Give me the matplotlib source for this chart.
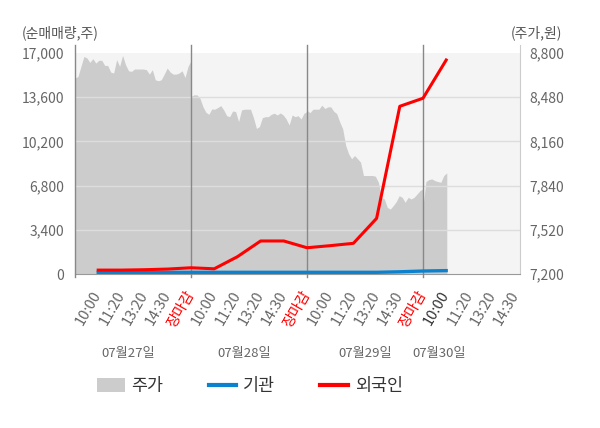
import numpy as np
import matplotlib
matplotlib.use('Agg')
import matplotlib.pyplot as plt
from matplotlib.patches import Patch
from matplotlib.lines import Line2D

plt.rcParams['font.family'] = ['Noto Sans CJK KR', 'DejaVu Sans']

# 주가(원), 날짜별로 읽은 값
price_d1 = [8618, 8630, 8703, 8775, 8764, 8732, 8759, 8727, 8747, 8747,
            8710, 8710, 8662, 8655, 8752, 8703, 8783, 8715, 8671, 8667,
            8684, 8684, 8684, 8684, 8679, 8647, 8679, 8606, 8599, 8606,
            8647, 8691, 8662, 8647, 8647, 8655, 8671, 8622, 8703, 8744]
price_d2 = [8485, 8497, 8497, 8473, 8412, 8371, 8356, 8395, 8393, 8405,
            8419, 8388, 8346, 8339, 8380, 8376, 8303, 8388, 8393, 8393,
            8393, 8332, 8254, 8267, 8332, 8339, 8339, 8356, 8364, 8351,
            8366, 8351, 8322, 8279, 8351, 8339, 8346, 8322, 8364, 8376]
price_d3 = [8385, 8368, 8393, 8393, 8393, 8422, 8398, 8410, 8410, 8378,
            8361, 8301, 8252, 8131, 8070, 8034, 8058, 8034, 8010, 7913,
            7913, 7913, 7913, 7908, 7864, 7755, 7743, 7682, 7670, 7695,
            7724, 7767, 7755, 7719, 7755, 7743, 7755, 7779, 7804, 7816]
price_d4 = [7695, 7869, 7884, 7888, 7876, 7869, 7864, 7913, 7932]

# 순매매량(주), 시간대별
foreign = [300, 300, 330, 380, 480, 400, 1330, 2540, 2540, 2020,
           2180, 2360, 4280, 12900, 13520, 16460]
inst = [130, 130, 130, 130, 130, 130, 130, 130, 130, 130,
        130, 130, 130, 170, 230, 260]

day_ticks = ['10:00', '11:20', '13:20', '14:30', '장마감']
dates = ['07월27일', '07월28일', '07월29일', '07월30일']
date_pos = [2.3, 7.3, 12.5, 15.7]

vol_ticks = [0, 3400, 6800, 10200, 13600, 17000]
price_ticks = [7200, 7520, 7840, 8160, 8480, 8800]

fig = plt.figure(figsize=(6, 4.28), dpi=100)
ax = fig.add_axes([75/600, 1-274/428, 445/600, 229/428])
ax2 = ax.twinx()

xmax = 445/23.2
ax.set_xlim(0, xmax)
ax.set_ylim(7200, 7200 + 1600*229/221)
ax2.set_ylim(0, 17000*229/221)

ax.axhspan(7200, 8800, color='#f4f4f4', lw=0, zorder=0)

# 주가 영역
xs, ys = [], []
for d, vals in enumerate([price_d1, price_d2, price_d3]):
    xs.append(d*5 + np.linspace(0, 5, len(vals)))
    ys.append(vals)
xs.append(15 + np.arange(len(price_d4))*5/39)
ys.append(price_d4)
px = np.concatenate(xs)
py = np.concatenate(ys)
ax.fill_between(px, 7200, py, color='#cccccc', lw=0, zorder=1)

for v in price_ticks[1:-1]:
    ax.axhline(v, color='#dddddd', lw=1, zorder=2)

for xv in [0, 5, 10, 15]:
    ax.plot([xv, xv], [-0.015, 1], transform=ax.get_xaxis_transform(),
            color='#888888', lw=1, clip_on=False, zorder=3)

slots = np.arange(1, len(foreign)+1)
ax2.plot(slots, inst, color='#0a82d0', lw=2.4, zorder=3)
ax2.plot(slots, foreign, color='#ff0000', lw=2.2, zorder=4)

for s in ['top', 'left']:
    ax.spines[s].set_visible(False)
ax.spines['right'].set_color('#cccccc')
ax.spines['bottom'].set_color('#999999')
for s in ax2.spines.values():
    s.set_visible(False)

# x축
labels = day_ticks*3 + day_ticks[:4]
ax.set_xticks(np.arange(1, len(labels)+1))
ax.set_xticklabels(labels, rotation=60, ha='right', va='center',
                   rotation_mode='anchor', fontsize=10.5)
ax.tick_params(axis='x', length=0, pad=13)
for i, t in enumerate(ax.get_xticklabels()):
    if t.get_text() == '장마감':
        t.set_color('#ff0000')
    elif i == 15:
        t.set_color('#333333')
    else:
        t.set_color('#666666')

# y축
ax.yaxis.tick_right()
ax.set_yticks(price_ticks)
ax.set_yticklabels([f'{v:,}' for v in price_ticks])
ax2.yaxis.tick_left()
ax2.set_yticks(vol_ticks)
ax2.set_yticklabels([f'{v:,}' for v in vol_ticks])
ax.tick_params(axis='y', length=0, pad=7, labelsize=10, labelcolor='#666666')
ax2.tick_params(axis='y', length=0, pad=8, labelsize=10, labelcolor='#666666')

fig.text(22/600, 1-33/428, '(순매매량,주)', ha='left', va='center',
         fontsize=10, color='#555555')
fig.text(562/600, 1-33/428, '(주가,원)', ha='right', va='center',
         fontsize=10, color='#555555')

for p, d in zip(date_pos, dates):
    ax.text(p, (274-353)/229, d, transform=ax.get_xaxis_transform(),
            ha='center', va='center', fontsize=9.5, color='#666666')

handles = [Patch(facecolor='#cccccc', lw=0),
           Line2D([], [], color='#0a82d0', lw=3),
           Line2D([], [], color='#ff0000', lw=3)]
fig.legend(handles, ['주가', '기관', '외국인'], loc='center',
           bbox_to_anchor=(250/600, 1-386/428), ncol=3, frameon=False,
           fontsize=12.5, handlelength=1.6, handleheight=0.85,
           handletextpad=0.4, columnspacing=2.6, labelcolor='#333333')

fig.savefig('out.png', dpi=100)
